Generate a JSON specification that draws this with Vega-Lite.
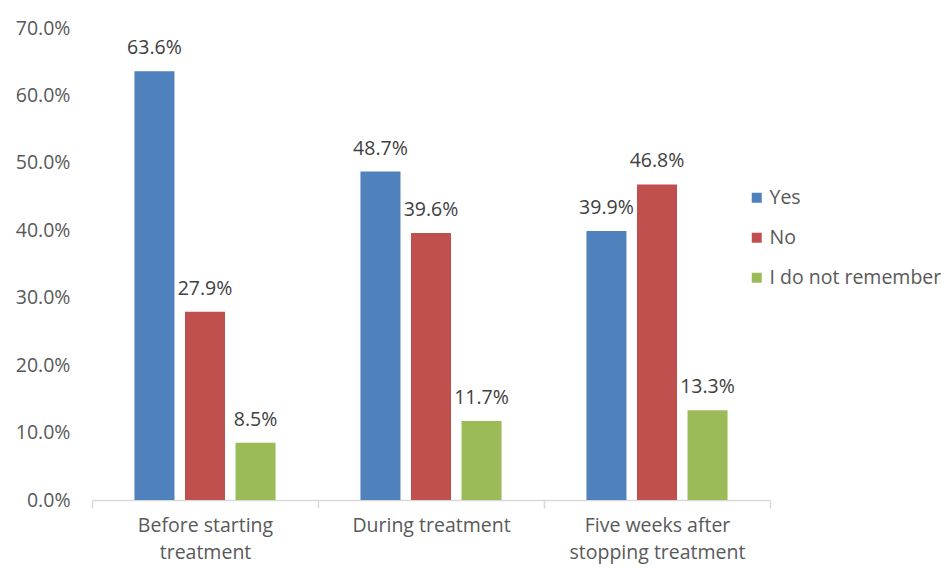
{
  "$schema": "https://vega.github.io/schema/vega-lite/v6.json",
  "autosize": {"type": "none"},
  "padding": {"left": 92, "top": 28, "right": 171, "bottom": 68},
  "width": 678,
  "height": 472,
  "background": "white",
  "config": {"view": {"stroke": null}, "font": "Open Sans"},
  "data": {"values": [
    {"period": "Before starting treatment", "answer": "Yes", "value": 0.636},
    {"period": "Before starting treatment", "answer": "No", "value": 0.279},
    {"period": "Before starting treatment", "answer": "I do not remember", "value": 0.085},
    {"period": "During treatment", "answer": "Yes", "value": 0.487},
    {"period": "During treatment", "answer": "No", "value": 0.396},
    {"period": "During treatment", "answer": "I do not remember", "value": 0.117},
    {"period": "Five weeks after stopping treatment", "answer": "Yes", "value": 0.399},
    {"period": "Five weeks after stopping treatment", "answer": "No", "value": 0.468},
    {"period": "Five weeks after stopping treatment", "answer": "I do not remember", "value": 0.133}
  ]},
  "encoding": {
    "x": {"field": "period", "type": "nominal", "sort": null,
      "scale": {"paddingInner": 0, "paddingOuter": 0},
      "axis": {"title": null, "labelAngle": 0, "labelFontSize": 19.5, "labelColor": "#595959",
        "labelPadding": 8, "labelLineHeight": 27, "labelBaseline": "top",
        "labelExpr": "datum.value == 'Before starting treatment' ? ['Before starting', 'treatment'] : datum.value == 'Five weeks after stopping treatment' ? ['Five weeks after', 'stopping treatment'] : datum.value",
        "domainColor": "#d9d9d9", "domainWidth": 1.5, "tickColor": "#d9d9d9", "tickBand": "extent", "tickSize": 8, "tickWidth": 1.5}},
    "xOffset": {"field": "answer", "type": "nominal", "sort": ["Yes", "No", "I do not remember"],
      "scale": {"paddingInner": 0.208, "paddingOuter": 0.84}},
    "y": {"field": "value", "type": "quantitative",
      "scale": {"domain": [0, 0.7]},
      "axis": {"title": null, "format": ".1%", "values": [0, 0.1, 0.2, 0.3, 0.4, 0.5, 0.6, 0.7],
        "domain": false, "ticks": false, "grid": false, "labelFontSize": 19.5, "labelColor": "#595959", "labelPadding": 22}}
  },
  "layer": [
    {"mark": {"type": "bar"},
     "encoding": {
       "color": {"field": "answer", "type": "nominal", "sort": ["Yes", "No", "I do not remember"],
         "scale": {"domain": ["Yes", "No", "I do not remember"], "range": ["#4F81BD", "#C0504D", "#9BBB59"]},
         "legend": {"title": null, "orient": "none", "legendX": 655, "legendY": 160, "symbolType": "square",
           "symbolSize": 100, "symbolStrokeWidth": 0, "labelFontSize": 19.5, "labelColor": "#595959", "rowPadding": 19, "labelOffset": 3, "labelLimit": 300}}
     }},
    {"mark": {"type": "text", "baseline": "bottom", "dy": -13, "fontSize": 19.5, "color": "#404040"},
     "encoding": {"text": {"field": "value", "type": "quantitative", "format": ".1%"}}}
  ]
}
